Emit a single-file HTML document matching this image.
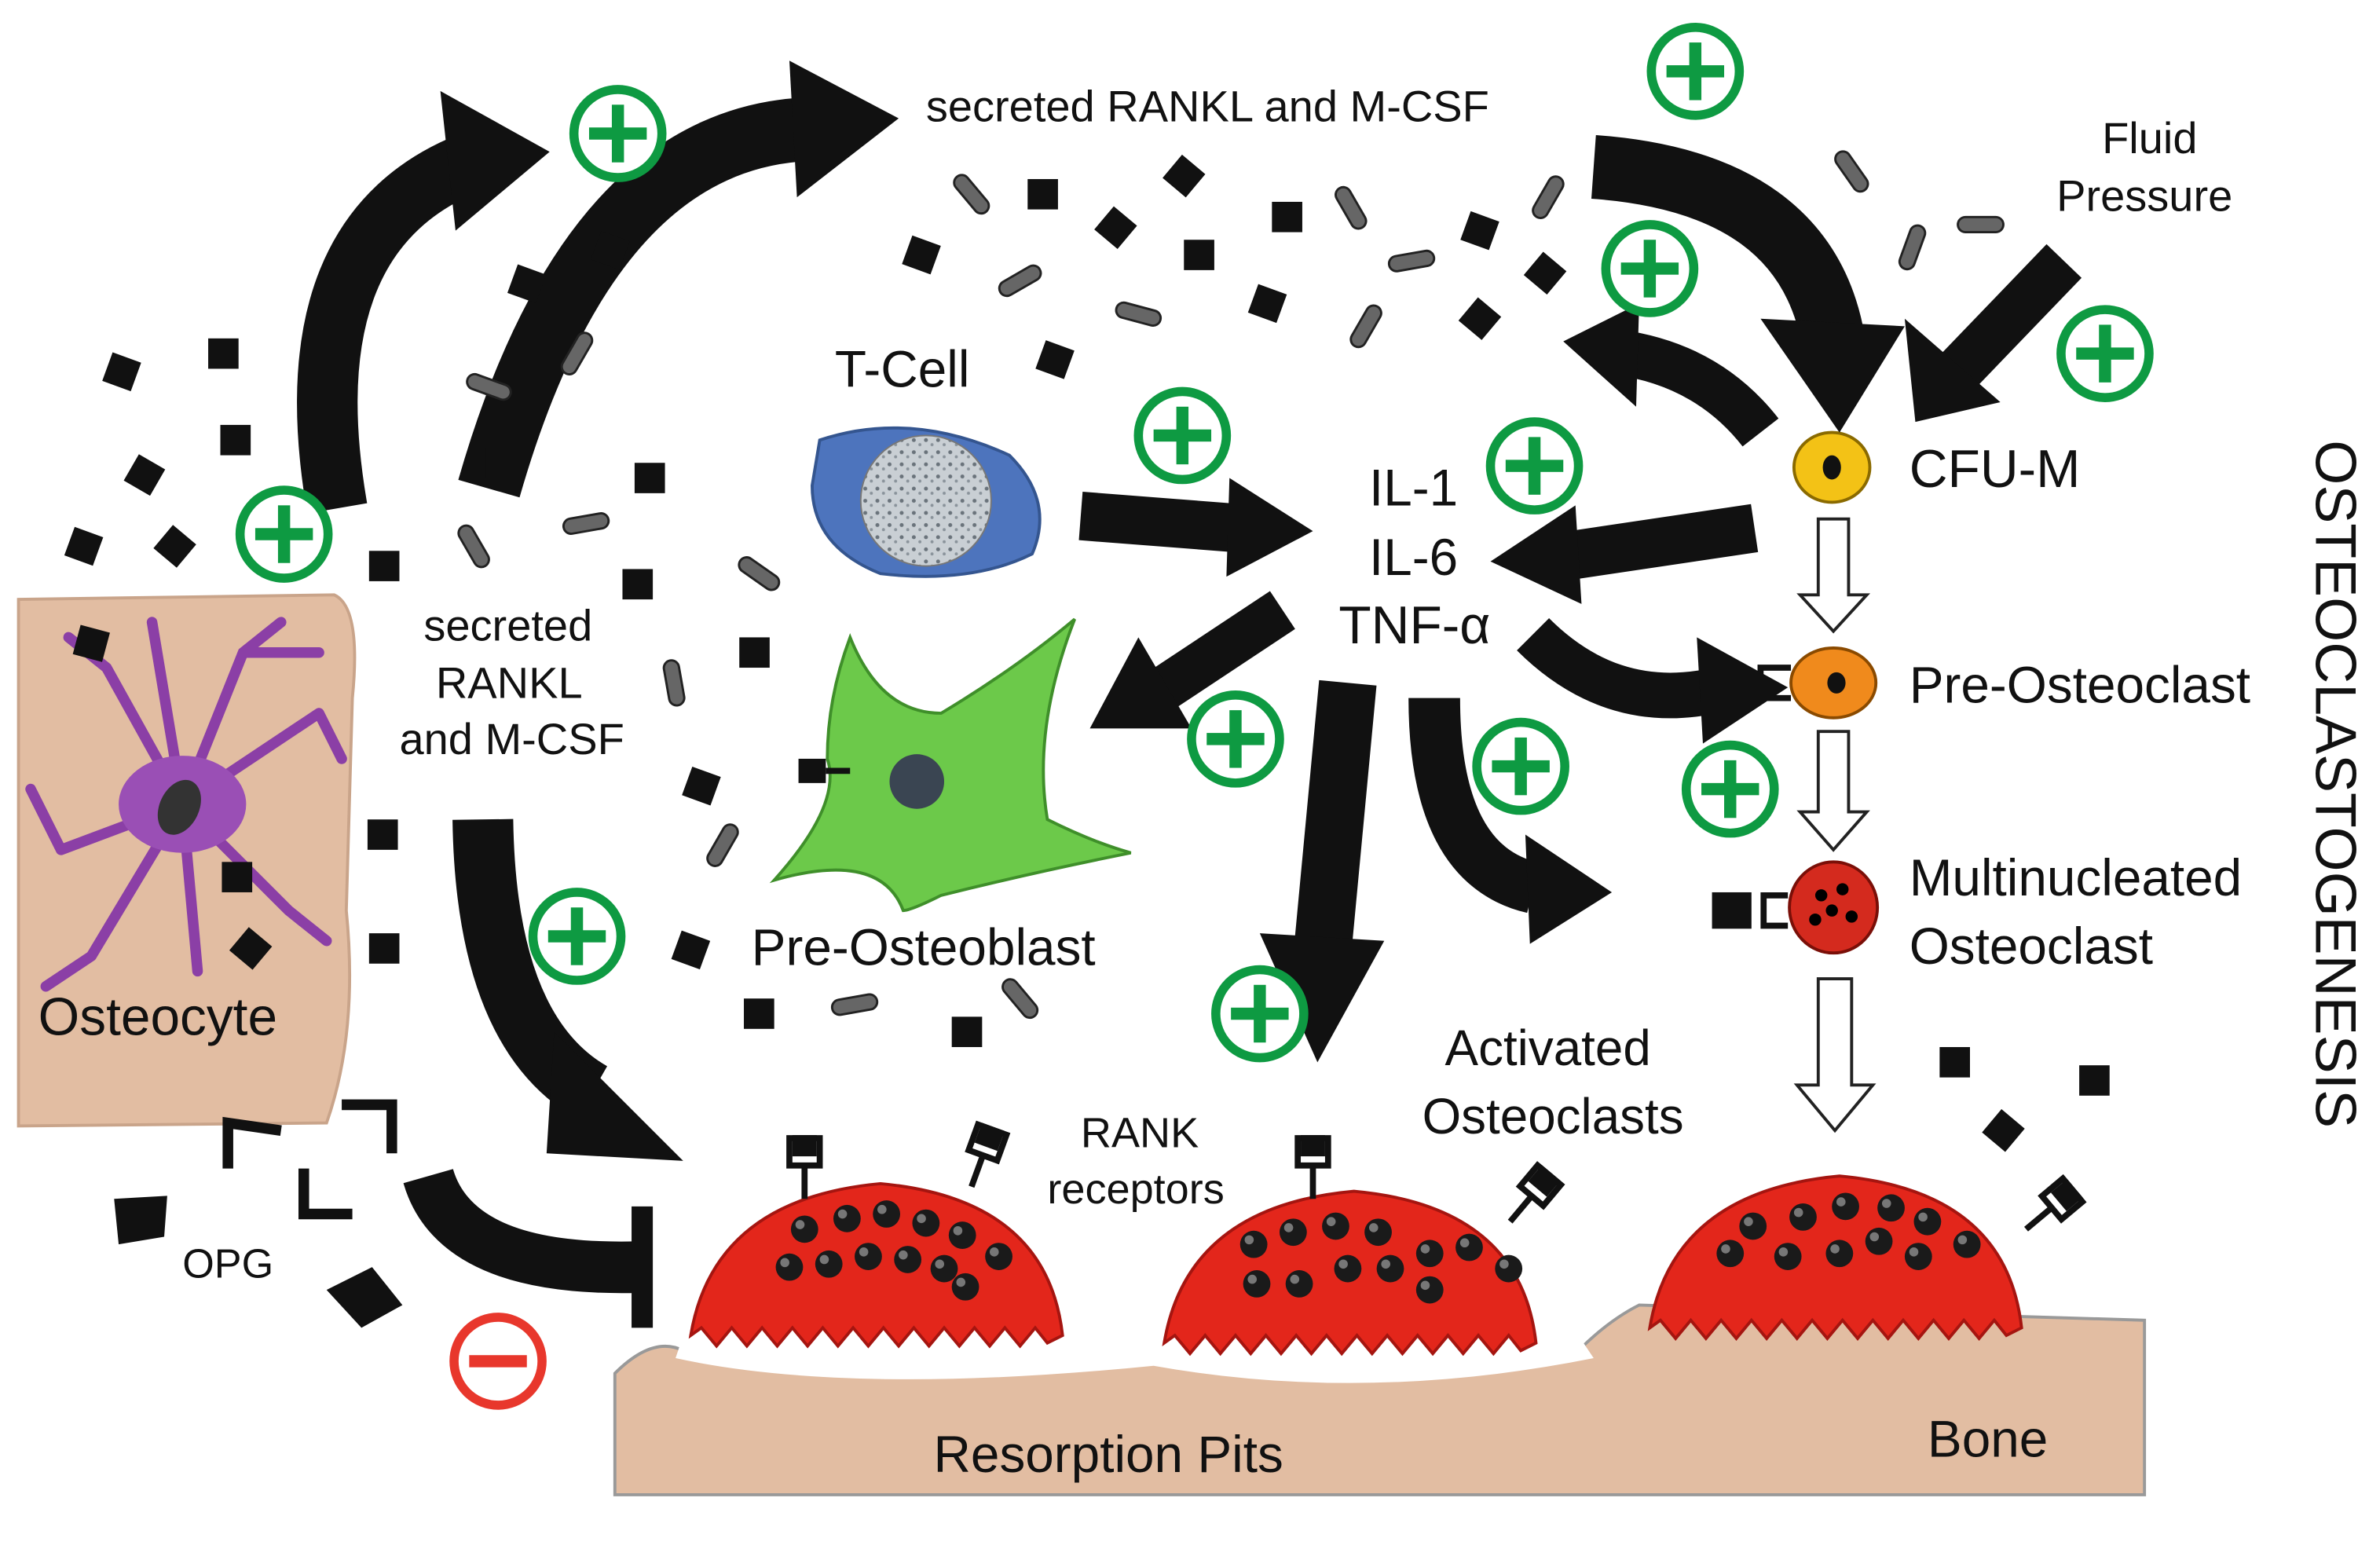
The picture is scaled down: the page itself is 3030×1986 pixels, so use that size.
<!DOCTYPE html>
<html><head><meta charset="utf-8"><style>
html,body{margin:0;padding:0;background:#fff;}
svg{display:block;}
text{font-family:"Liberation Sans",sans-serif;fill:#111;}
</style></head><body>
<svg width="3030" height="1986" viewBox="0 0 1568 1028" xmlns="http://www.w3.org/2000/svg">
<defs>
<g id="plus"><circle r="29" fill="#fff" stroke="#0e9a42" stroke-width="6"/><rect x="-19" y="-4" width="38" height="8" fill="#0e9a42"/><rect x="-4" y="-19" width="8" height="38" fill="#0e9a42"/></g>
<g id="sq"><rect x="-10" y="-10" width="20" height="20" fill="#111"/></g>
<g id="rod"><rect x="-15" y="-5" width="30" height="10" rx="5" fill="#666" stroke="#222" stroke-width="1.5"/></g>
<g id="nuc"><circle r="9" fill="#1a1a1a"/><circle cx="-3" cy="-3" r="3" fill="#777"/></g>
<g id="rank"><path d="M0 0 V-22 M-10 -22 V-40 H10 V-22 Z" stroke="#111" stroke-width="4" fill="none"/><rect x="-8" y="-42" width="16" height="14" fill="#111"/></g>
<pattern id="speck" width="8" height="8" patternUnits="userSpaceOnUse"><rect width="8" height="8" fill="#c9cfd4"/><circle cx="2" cy="2" r="1.3" fill="#6a737b"/><circle cx="6" cy="5" r="1" fill="#8a939b"/></pattern>
</defs>

<!-- osteocyte box -->
<path d="M12 395 L220 392 Q238 400 232 460 L228 600 Q236 680 215 740 L12 742 Z" fill="#e2bda2" stroke="#c9a48a" stroke-width="2"/>
<g stroke="#8b3fa6" stroke-width="7" fill="none" stroke-linecap="round">
<path d="M120 530 L70 440 M120 530 L160 430 L185 410 M120 530 L210 470 M120 530 L40 560 M120 530 L60 630 M120 530 L130 640 M120 530 L190 600 M120 530 L100 410 M160 430 L210 430 M70 440 L45 420 M40 560 L20 520 M60 630 L30 650 M190 600 L215 620 M210 470 L225 500"/>
</g>
<ellipse cx="120" cy="530" rx="42" ry="32" fill="#9a4fb5"/>
<ellipse cx="118" cy="532" rx="13" ry="19" transform="rotate(25 118 532)" fill="#333"/>
<text x="25" y="682" font-size="35">Osteocyte</text>

<!-- bone -->
<path d="M405 905 Q430 880 450 890 L1040 890 Q1060 870 1080 860 L1413 870 L1413 985 L405 985 Z" fill="#e2bda2" stroke="#999" stroke-width="2"/>
<path d="M445 895 Q560 920 760 900 Q900 925 1050 895 L1040 880 L450 880 Z" fill="#fff"/>
<text x="615" y="970" font-size="34">Resorption Pits</text>
<text x="1270" y="960" font-size="34">Bone</text>

<!-- osteoclasts -->
<g id="oc">
<path d="M455 880 Q470 790 580 780 Q690 790 700 880 L690 885 L682 875 L672 887 L662 875 L652 887 L642 875 L632 887 L622 875 L612 887 L602 875 L592 887 L582 875 L572 887 L562 875 L552 887 L542 875 L532 887 L522 875 L512 887 L502 875 L492 887 L482 875 L472 887 L462 875 Z" fill="#e3261b" stroke="#a51510" stroke-width="2"/>
</g>
<use href="#oc" x="312" y="5"/>
<use href="#oc" x="632" y="-5"/>
<g>
<use href="#nuc" x="530" y="810"/><use href="#nuc" x="558" y="803"/><use href="#nuc" x="584" y="800"/><use href="#nuc" x="610" y="806"/><use href="#nuc" x="634" y="814"/><use href="#nuc" x="520" y="835"/><use href="#nuc" x="546" y="833"/><use href="#nuc" x="572" y="828"/><use href="#nuc" x="598" y="830"/><use href="#nuc" x="622" y="836"/><use href="#nuc" x="658" y="828"/><use href="#nuc" x="636" y="848"/>
<use href="#nuc" x="826" y="820"/><use href="#nuc" x="852" y="812"/><use href="#nuc" x="880" y="808"/><use href="#nuc" x="908" y="812"/><use href="#nuc" x="942" y="826"/><use href="#nuc" x="968" y="822"/><use href="#nuc" x="828" y="846"/><use href="#nuc" x="856" y="846"/><use href="#nuc" x="888" y="836"/><use href="#nuc" x="916" y="836"/><use href="#nuc" x="942" y="850"/><use href="#nuc" x="994" y="836"/>
<use href="#nuc" x="1155" y="808"/><use href="#nuc" x="1188" y="802"/><use href="#nuc" x="1216" y="795"/><use href="#nuc" x="1246" y="796"/><use href="#nuc" x="1270" y="805"/><use href="#nuc" x="1140" y="826"/><use href="#nuc" x="1178" y="828"/><use href="#nuc" x="1212" y="826"/><use href="#nuc" x="1238" y="818"/><use href="#nuc" x="1264" y="828"/><use href="#nuc" x="1296" y="820"/>
</g>
<use href="#rank" x="530" y="790"/><use href="#rank" x="640" y="782" transform="rotate(20 640 782)"/><use href="#rank" x="865" y="790"/><use href="#rank" x="995" y="805" transform="rotate(40 995 805)"/><use href="#rank" x="1335" y="810" transform="rotate(50 1335 810)"/>
<text x="712" y="756" font-size="28">RANK</text>
<text x="690" y="793" font-size="28">receptors</text>
<text x="952" y="702" font-size="33">Activated</text>
<text x="937" y="747" font-size="33">Osteoclasts</text>

<!-- T-cell -->
<path d="M540 290 Q600 270 665 300 Q695 330 680 365 Q640 385 580 378 Q535 360 535 320 Z" fill="#4d74bd" stroke="#34558f" stroke-width="2"/>
<circle cx="610" cy="330" r="43" fill="url(#speck)" stroke="#777"/>
<text x="550" y="255" font-size="34">T-Cell</text>

<!-- pre-osteoblast -->
<path d="M560 420 Q580 470 620 470 Q670 440 708 408 Q680 480 690 540 Q720 555 745 562 Q680 575 620 590 Q600 600 595 600 Q580 560 510 580 Q555 530 545 500 Q545 460 560 420 Z" fill="#6cc94a" stroke="#3f8f2a" stroke-width="2"/>
<circle cx="604" cy="515" r="18" fill="#3a4552"/>
<rect x="526" y="500" width="18" height="16" fill="#111"/><line x1="544" y1="508" x2="560" y2="508" stroke="#111" stroke-width="4"/>
<text x="495" y="636" font-size="34">Pre-Osteoblast</text>

<!-- right cells -->
<ellipse cx="1207" cy="308" rx="25" ry="23" fill="#f3c216" stroke="#8a6a00" stroke-width="2"/><ellipse cx="1207" cy="308" rx="6" ry="8" fill="#111"/>
<ellipse cx="1208" cy="450" rx="28" ry="23" fill="#f08a1c" stroke="#8a4a00" stroke-width="2"/><ellipse cx="1210" cy="450" rx="6" ry="7" fill="#111"/>
<path d="M1180 440 H1160 V460 H1180 M1160 450 H1150" stroke="#111" stroke-width="4" fill="none"/>
<ellipse cx="1208" cy="598" rx="29" ry="30" fill="#d42a1e" stroke="#7a0f08" stroke-width="2"/>
<circle cx="1200" cy="590" r="4"/><circle cx="1214" cy="586" r="4"/><circle cx="1207" cy="600" r="4"/><circle cx="1220" cy="604" r="4"/><circle cx="1196" cy="606" r="4"/>
<path d="M1178 590 H1162 V610 H1178" stroke="#111" stroke-width="4" fill="none"/><rect x="1128" y="588" width="26" height="24" fill="#111"/>
<text x="1258" y="321" font-size="35">CFU-M</text>
<text x="1258" y="463" font-size="34">Pre-Osteoclast</text>
<text x="1258" y="590" font-size="34">Multinucleated</text>
<text x="1258" y="635" font-size="34">Osteoclast</text>
<text transform="translate(1526 290) rotate(90)" font-size="38">OSTEOCLASTOGENESIS</text>

<!-- hollow arrows -->
<g fill="#fff" stroke="#222" stroke-width="2">
<path d="M1198 342 H1218 V392 H1230 L1208 416 L1186 392 H1198 Z"/>
<path d="M1198 482 H1218 V535 H1230 L1208 560 L1186 535 H1198 Z"/>
<path d="M1198 645 H1220 V715 H1234 L1209 745 L1184 715 H1198 Z"/>
</g>

<!-- black arrows -->
<g fill="none" stroke="#111" stroke-linecap="butt">
<path d="M222 335 Q190 150 315 105" stroke-width="40"/>
<path d="M322 322 Q390 85 540 85" stroke-width="42"/>
<path d="M1050 110 Q1190 120 1208 225" stroke-width="42"/>
<path d="M1160 285 Q1125 240 1065 232" stroke-width="30"/>
<path d="M1360 172 L1285 250" stroke-width="32"/>
<path d="M712 340 L815 348" stroke-width="32"/>
<path d="M1156 348 L1035 366" stroke-width="32"/>
<path d="M845 402 L765 455" stroke-width="30"/>
<path d="M1010 418 Q1060 468 1125 456" stroke-width="30"/>
<path d="M888 450 L872 620" stroke-width="38"/>
<path d="M945 460 Q945 570 1010 585" stroke-width="34"/>
<path d="M318 540 Q320 680 390 720" stroke-width="40"/>
<path d="M282 775 Q300 838 420 835" stroke-width="34"/>
<path d="M423 795 V875" stroke-width="14"/>
</g>
<g fill="#111">
<polygon points="290,60 362,100 300,152"/>
<polygon points="520,40 592,78 525,130"/>
<polygon points="1160,210 1255,215 1212,285"/>
<polygon points="1080,200 1030,225 1078,268"/>
<polygon points="1255,210 1318,265 1262,278"/>
<polygon points="810,315 865,350 808,380"/>
<polygon points="1038,333 982,370 1042,398"/>
<polygon points="750,420 718,480 785,480"/>
<polygon points="1118,420 1178,453 1122,490"/>
<polygon points="830,615 912,620 868,700"/>
<polygon points="1005,550 1062,588 1008,622"/>
<polygon points="365,680 450,765 360,760"/>
</g>

<!-- OPG -->
<g stroke="#111" stroke-width="7" fill="none">
<path d="M150 770 L150 740 L185 745"/><path d="M225 728 L258 728 L258 760"/><path d="M200 770 L200 800 L232 800"/>
</g>
<path d="M75 790 L110 788 L108 815 L78 820 Z" fill="#111"/>
<path d="M215 850 L245 835 L265 860 L238 875 Z" fill="#111"/>
<text x="120" y="842" font-size="27">OPG</text>

<!-- text labels -->
<text x="610" y="80" font-size="29">secreted RANKL and M-CSF</text>
<text x="279" y="422" font-size="29">secreted</text>
<text x="287" y="460" font-size="29">RANKL</text>
<text x="263" y="497" font-size="29">and M-CSF</text>
<text x="1385" y="101" font-size="29">Fluid</text>
<text x="1355" y="139" font-size="29">Pressure</text>
<text x="902" y="333" font-size="34">IL-1</text>
<text x="902" y="379" font-size="34">IL-6</text>
<text x="882" y="424" font-size="35">TNF-α</text>

<!-- squares -->
<g>
<use href="#sq" x="80" y="245" transform="rotate(20 80 245)"/><use href="#sq" x="147" y="233"/><use href="#sq" x="155" y="290"/><use href="#sq" x="95" y="313" transform="rotate(30 95 313)"/><use href="#sq" x="55" y="360" transform="rotate(20 55 360)"/><use href="#sq" x="115" y="360" transform="rotate(40 115 360)"/><use href="#sq" x="60" y="424" transform="rotate(15 60 424)"/>
<use href="#sq" x="347" y="187" transform="rotate(20 347 187)"/><use href="#sq" x="402" y="165" transform="rotate(20 402 165)"/><use href="#sq" x="330" y="305"/><use href="#sq" x="428" y="315"/><use href="#sq" x="253" y="373"/><use href="#sq" x="420" y="385"/><use href="#sq" x="497" y="430"/><use href="#sq" x="462" y="518" transform="rotate(20 462 518)"/><use href="#sq" x="252" y="550"/><use href="#sq" x="156" y="578"/><use href="#sq" x="165" y="625" transform="rotate(40 165 625)"/><use href="#sq" x="253" y="625"/><use href="#sq" x="455" y="626" transform="rotate(20 455 626)"/><use href="#sq" x="500" y="668"/><use href="#sq" x="637" y="680"/>
<use href="#sq" x="687" y="128"/><use href="#sq" x="780" y="116" transform="rotate(40 780 116)"/><use href="#sq" x="607" y="168" transform="rotate(20 607 168)"/><use href="#sq" x="735" y="150" transform="rotate(40 735 150)"/><use href="#sq" x="790" y="168"/><use href="#sq" x="848" y="143"/><use href="#sq" x="835" y="200" transform="rotate(20 835 200)"/><use href="#sq" x="695" y="237" transform="rotate(20 695 237)"/><use href="#sq" x="975" y="152" transform="rotate(20 975 152)"/><use href="#sq" x="1018" y="180" transform="rotate(40 1018 180)"/><use href="#sq" x="975" y="210" transform="rotate(40 975 210)"/>
<use href="#sq" x="1288" y="700"/><use href="#sq" x="1380" y="712"/><use href="#sq" x="1320" y="745" transform="rotate(40 1320 745)"/>
</g>
<g>
<use href="#rod" x="640" y="128" transform="rotate(50 640 128)"/><use href="#rod" x="672" y="185" transform="rotate(-30 672 185)"/><use href="#rod" x="750" y="207" transform="rotate(15 750 207)"/><use href="#rod" x="890" y="137" transform="rotate(60 890 137)"/><use href="#rod" x="930" y="172" transform="rotate(-10 930 172)"/><use href="#rod" x="900" y="215" transform="rotate(-60 900 215)"/><use href="#rod" x="1020" y="130" transform="rotate(-60 1020 130)"/><use href="#rod" x="1220" y="113" transform="rotate(55 1220 113)"/><use href="#rod" x="1260" y="163" transform="rotate(-70 1260 163)"/><use href="#rod" x="1305" y="148"/>
<use href="#rod" x="380" y="233" transform="rotate(-60 380 233)"/><use href="#rod" x="322" y="255" transform="rotate(20 322 255)"/><use href="#rod" x="386" y="345" transform="rotate(-10 386 345)"/><use href="#rod" x="312" y="360" transform="rotate(60 312 360)"/><use href="#rod" x="500" y="378" transform="rotate(35 500 378)"/><use href="#rod" x="444" y="450" transform="rotate(80 444 450)"/><use href="#rod" x="476" y="557" transform="rotate(-60 476 557)"/><use href="#rod" x="563" y="662" transform="rotate(-10 563 662)"/><use href="#rod" x="672" y="658" transform="rotate(50 672 658)"/>
</g>

<!-- plus/minus -->
<use href="#plus" x="407" y="88"/><use href="#plus" x="1117" y="47"/><use href="#plus" x="187" y="352"/><use href="#plus" x="1087" y="177"/><use href="#plus" x="1387" y="233"/><use href="#plus" x="779" y="287"/><use href="#plus" x="1011" y="307"/><use href="#plus" x="814" y="487"/><use href="#plus" x="1002" y="505"/><use href="#plus" x="1140" y="520"/><use href="#plus" x="380" y="617"/><use href="#plus" x="830" y="668"/>
<circle cx="328" cy="897" r="29" fill="#fff" stroke="#e8372c" stroke-width="6"/><rect x="309" y="893" width="38" height="8" fill="#e8372c"/>
</svg>
</body></html>
